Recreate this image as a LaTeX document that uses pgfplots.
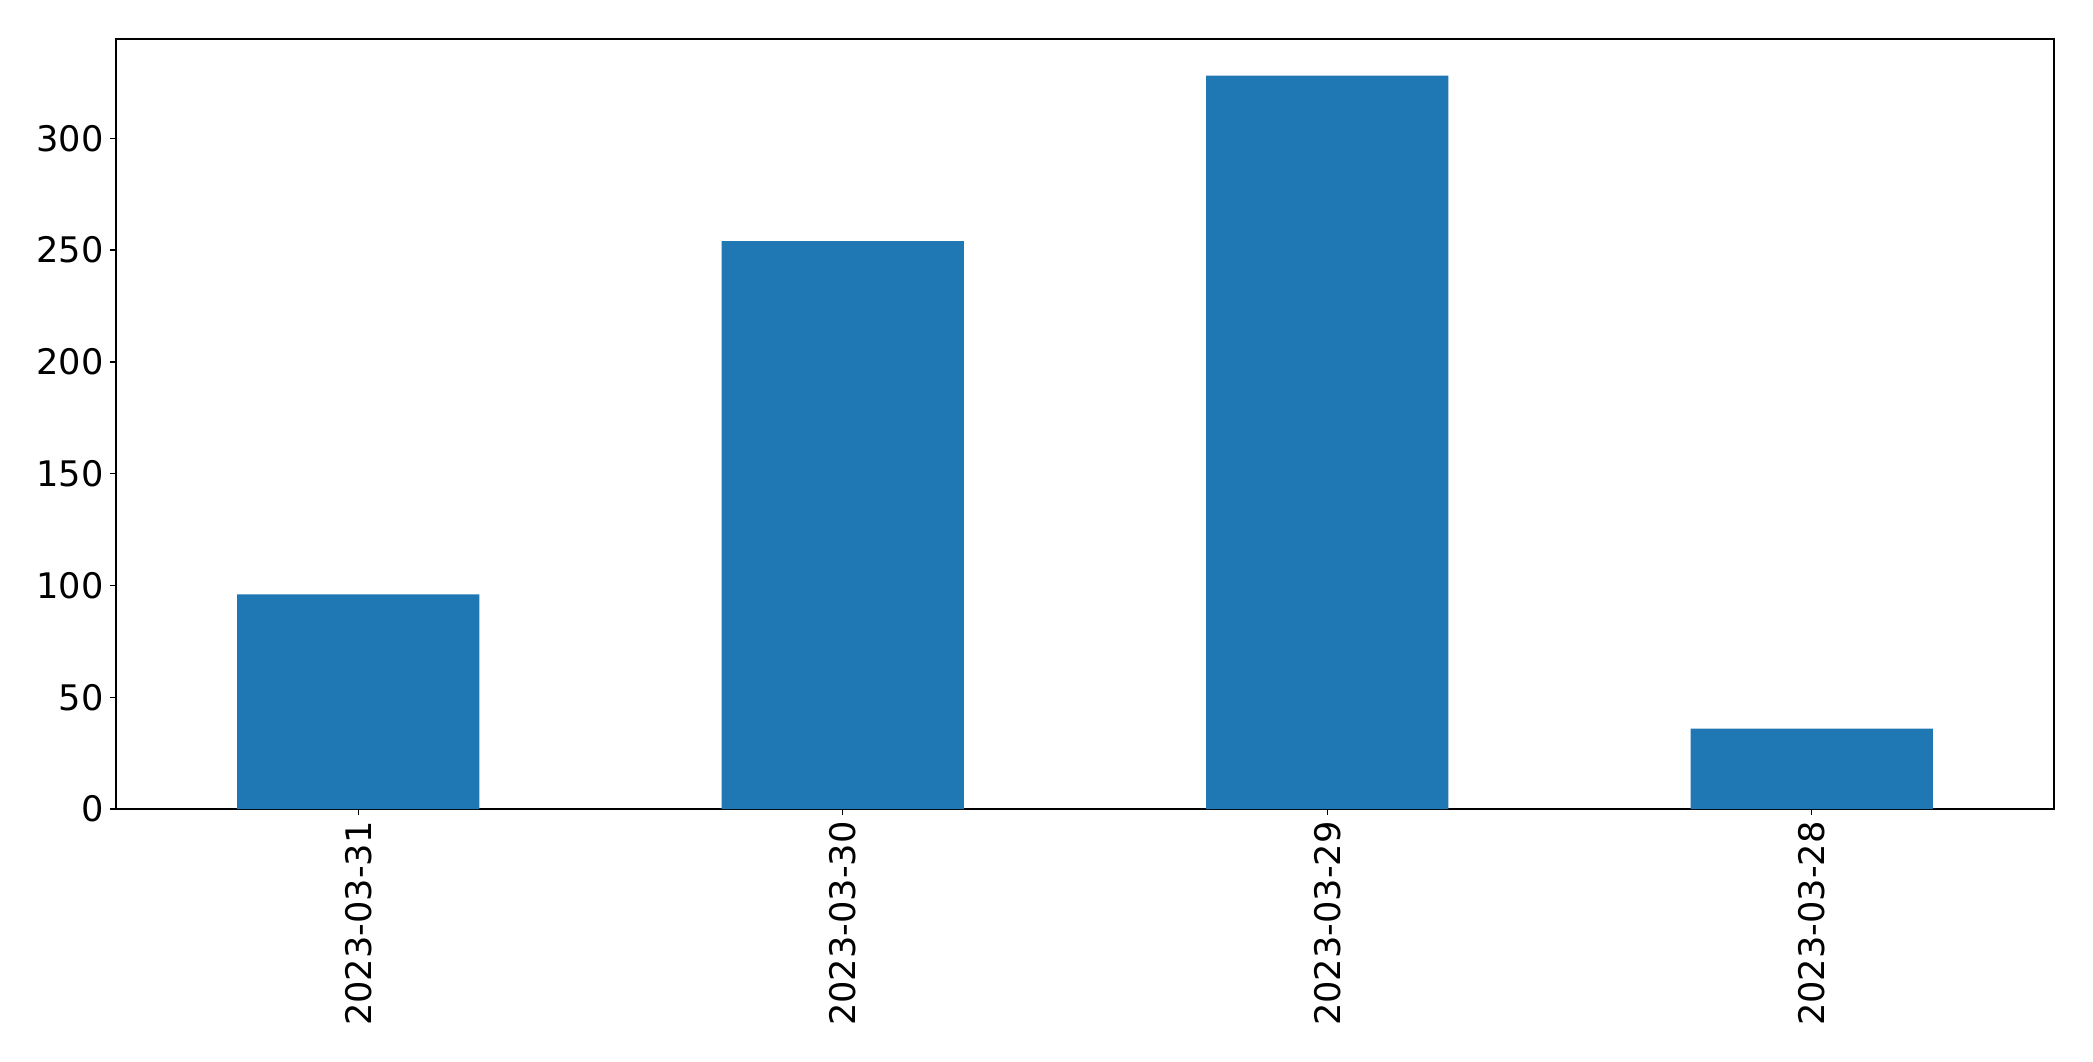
\documentclass[border=0pt]{standalone}
\usepackage{fontspec}
\setmainfont{DejaVu Sans}
\usepackage{pgfplots}
\pgfplotsset{compat=1.18}
\definecolor{mplblue}{HTML}{1F77B4}
\begin{document}
\begin{tikzpicture}
\useasboundingbox (-58pt,-126pt) rectangle (988.5pt,404.5pt);
\begin{axis}[
  at={(0,0)}, anchor=south west,
  scale only axis,
  width=969pt, height=385pt,
  xmin=-0.5, xmax=3.5,
  ymin=0, ymax=344.4,
  xtick={0,1,2,3},
  xticklabels={2023-03-31,2023-03-30,2023-03-29,2023-03-28},
  ytick={0,50,100,150,200,250,300},
  xtick pos=left, ytick pos=left,
  tick align=outside,
  major tick length=3.1pt,
  every tick/.style={black, line width=0.7pt},
  axis line style={line width=0.7pt},
  /pgf/number format/assume math mode=true,
  tick label style={font=\fontsize{17.6}{20}\selectfont},
  xticklabel style={rotate=90, anchor=east, inner sep=0pt, outer sep=3.1pt},
  yticklabel style={inner sep=0pt, outer sep=3.1pt},
]
\addplot[ybar, bar width=0.5, fill=mplblue, draw=none] coordinates {
  (0,96) (1,254) (2,328) (3,36)
};
\end{axis}
\end{tikzpicture}
\end{document}
